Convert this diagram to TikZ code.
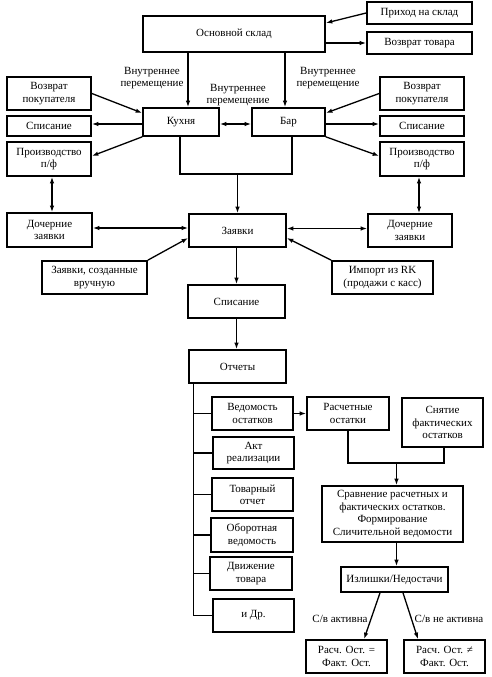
\documentclass[tikz,border=0pt]{standalone}
\usepackage{fontspec}
\setmainfont{Liberation Serif}
\usetikzlibrary{arrows.meta,calc}
\begin{document}
\begin{tikzpicture}[x=1pt,y=-1pt,
  every node/.style={font=\fontsize{11}{12.4}\selectfont},
  box/.style={draw,line width=1.7pt,align=center,inner sep=0pt},
  conn/.style={line width=1.3pt},
  arr/.style={conn,-{Latex[length=6.5pt,width=4.5pt]}},
  darr/.style={conn,{Latex[length=6.5pt,width=4.5pt]}-{Latex[length=6.5pt,width=4.5pt]}},
  lbl/.style={align=center,inner sep=0pt}]
\useasboundingbox[fill=white] (0,0) rectangle (491,677);
% boxes: center, width, height
\node[box,minimum width=182,minimum height=36] (sklad) at (234,34) {Основной склад};
\node[box,minimum width=105,minimum height=22] (prihod) at (419.5,13) {Приход на склад};
\node[box,minimum width=105,minimum height=22] (vozvrat) at (419.5,43) {Возврат товара};
\node[box,minimum width=76,minimum height=28] (kuhnya) at (181,122) {Кухня};
\node[box,minimum width=73,minimum height=28] (bar) at (288.5,122) {Бар};
\node[box,minimum width=84,minimum height=33] (vpL) at (49,93.5) {Возврат\\покупателя};
\node[box,minimum width=84,minimum height=33] (vpR) at (422,93.5) {Возврат\\покупателя};
\node[box,minimum width=84,minimum height=20] (spL) at (49,126) {Списание};
\node[box,minimum width=84,minimum height=20] (spR) at (422,126) {Списание};
\node[box,minimum width=84,minimum height=34] (prL) at (49,159) {Производство\\п/ф};
\node[box,minimum width=84,minimum height=34] (prR) at (422,159) {Производство\\п/ф};
\node[box,minimum width=85,minimum height=34] (dochL) at (49.5,230) {Дочерние\\заявки};
\node[box,minimum width=97,minimum height=33] (zayavki) at (237.5,230.5) {Заявки};
\node[box,minimum width=84,minimum height=33] (dochR) at (410,230.5) {Дочерние\\заявки};
\node[box,minimum width=105,minimum height=33] (manual) at (94.5,277.5) {Заявки, созданные\\вручную};
\node[box,minimum width=101,minimum height=33] (import) at (382.5,277.5) {Импорт из RK\\(продажи с касс)};
\node[box,minimum width=97,minimum height=33] (spisanie) at (236.5,301.5) {Списание};
\node[box,minimum width=97,minimum height=33] (otchety) at (237.5,366.5) {Отчеты};
\node[box,minimum width=81,minimum height=33] (ved) at (252.5,413.5) {Ведомость\\остатков};
\node[box,minimum width=81,minimum height=32] (akt) at (253.5,453) {Акт\\реализации};
\node[box,minimum width=81,minimum height=33] (tov) at (252.5,494.5) {Товарный\\отчет};
\node[box,minimum width=82,minimum height=34] (obor) at (252,535) {Оборотная\\ведомость};
\node[box,minimum width=82,minimum height=33] (dvizh) at (251,573.5) {Движение\\товара};
\node[box,minimum width=81,minimum height=33] (dr) at (253.5,615.5) {и Др.};
\node[box,minimum width=82,minimum height=33] (rasch) at (348,413.5) {Расчетные\\остатки};
\node[box,minimum width=81,minimum height=49] (snyat) at (442.5,422.5) {Снятие\\фактических\\остатков};
\node[box,minimum width=141,minimum height=56] (sravn) at (392.5,514) {Сравнение расчетных и\\фактических остатков.\\Формирование\\Сличительной ведомости};
\node[box,minimum width=107,minimum height=25] (izl) at (394.5,579.5) {Излишки/Недостачи};
\node[box,minimum width=81,minimum height=33] (eq) at (346.5,656.5) {Расч. Ост. =\\Факт. Ост.};
\node[box,minimum width=81,minimum height=33] (neq) at (444.5,656.5) {Расч. Ост. ≠\\Факт. Ост.};
% labels
\node[lbl] (l1) at (152,78) {Внутреннее\\перемещение};
\node[lbl] (l2) at (238,95) {Внутреннее\\перемещение};
\node[lbl] (l3) at (328,78) {Внутреннее\\перемещение};
\node[lbl] (l4) at (340,619) {С/в активна};
\node[lbl] (l5) at (449,619) {С/в не активна};
% connectors
\draw[arr] (prihod.west) -- ([yshift=11pt]sklad.east);
\draw[arr] (sklad.east |- vozvrat.west) -- (vozvrat.west);
\draw[arr] ([xshift=7pt]kuhnya.north |- sklad.south) -- ([xshift=7pt]kuhnya.north);
\draw[arr] ([xshift=-3.5pt]bar.north |- sklad.south) -- ([xshift=-3.5pt]bar.north);
\draw[arr] (vpL.east) -- ([yshift=9pt]kuhnya.west);
\draw[arr] (vpR.west) -- ([yshift=9pt]bar.east);
\draw[arr] ([yshift=-2pt]kuhnya.west) -- ([yshift=-2pt]kuhnya.west -| spL.east);
\draw[arr] ([yshift=-2pt]bar.east) -- ([yshift=-2pt]bar.east -| spR.west);
\draw[darr] ([yshift=-2pt]kuhnya.east) -- ([yshift=-2pt]kuhnya.east -| bar.west);
\draw[arr] (kuhnya.south west) -- ([yshift=3pt]prL.east);
\draw[arr] (bar.south east) -- ([yshift=3pt]prR.west);
\coordinate (kb) at ($(kuhnya.south)+(-1,37)$);
\draw[conn] ([xshift=-1pt]kuhnya.south) -- (kb) -| ([xshift=3.5pt]bar.south);
\draw[arr] (kb -| zayavki.north) -- (zayavki.north);
\draw[darr] ([xshift=3pt]prL.south) -- ([xshift=3pt]prL.south |- dochL.north);
\draw[darr] ([xshift=-3pt]prR.south) -- ([xshift=-3pt]prR.south |- dochR.north);
\draw[darr] ([yshift=2pt]dochL.east) -- ([yshift=2pt]dochL.east -| zayavki.west);
\draw[darr] ([yshift=2pt]zayavki.east) -- ([yshift=2pt]zayavki.east -| dochR.west);
\draw[arr] (manual.north east) -- ([yshift=-7.5pt]zayavki.west);
\draw[arr] (import.north west) -- ([yshift=-7.5pt]zayavki.east);
\draw[arr] ([xshift=-1pt]zayavki.south) -- ([xshift=-1pt]zayavki.south |- spisanie.north);
\draw[arr] (spisanie.south) -- (spisanie.south |- otchety.north);
\coordinate (trunk) at ([xshift=5pt]otchety.south west);
\draw[conn] (trunk) -- (trunk |- dr.west);
\foreach \b in {ved,akt,tov,obor,dvizh,dr} \draw[conn] (trunk |- \b.west) -- (\b.west);
\draw[arr] (ved.east) -- (rasch.west);
\coordinate (rs) at ($(rasch.south)+(0,32)$);
\draw[conn] (rasch.south) -- (rs) -| ([xshift=1.5pt]snyat.south);
\draw[arr] ([xshift=4pt]rs -| sravn.north) -- ([xshift=4pt]sravn.north);
\draw[arr] ([xshift=4pt]sravn.south) -- ([xshift=4pt]sravn.south |- izl.north);
\draw[arr] ([xshift=-14.5pt]izl.south) -- ([xshift=17.5pt]eq.north);
\draw[arr] ([xshift=8.5pt]izl.south) -- ([xshift=-26.5pt]neq.north);
\end{tikzpicture}
\end{document}
